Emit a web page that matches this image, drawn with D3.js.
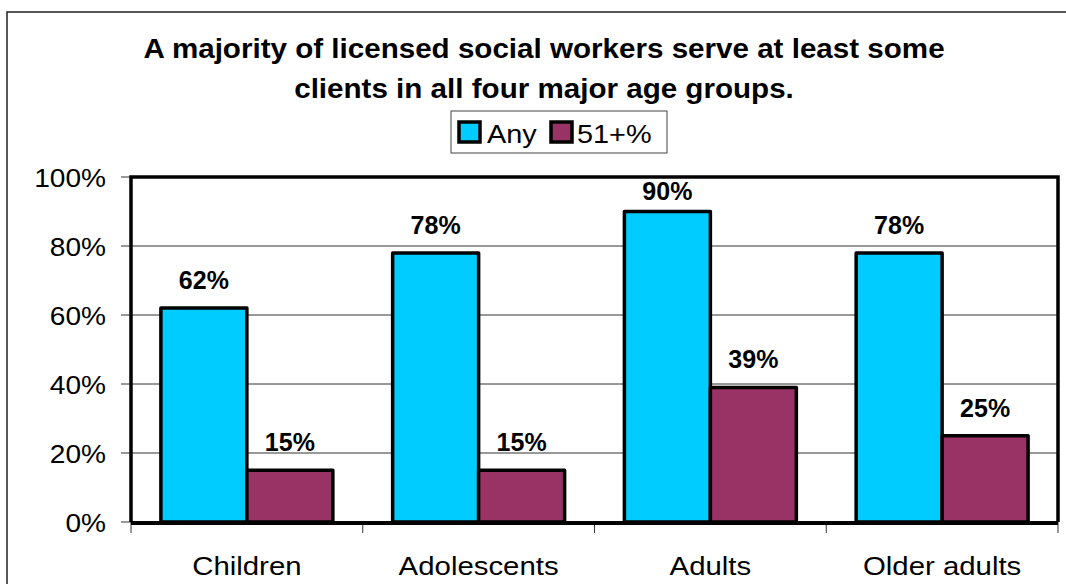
<!DOCTYPE html>
<html><head><meta charset="utf-8">
<script src="https://cdn.jsdelivr.net/npm/d3@7"></script>
<style>body{margin:0;background:#fff}svg{display:block;font-family:Arial,"Liberation Sans",sans-serif}</style>
</head><body>
<svg id="c" width="1066" height="584"></svg>
<script>
const categories = ["Children","Adolescents","Adults","Older adults"];
const seriesNames = ["Any","51+%"];
const anyValues = [0.62,0.78,0.90,0.78];
const over51Values = [0.15,0.15,0.39,0.25];
const yTicks = [0,0.2,0.4,0.6,0.8,1.0];
const titleLines = ["A majority of licensed social workers serve at least some","clients in all four major age groups."];
const colors = ["#00CCFF","#993366"];

const svg = d3.select("#c");
const L=131, R=1058, T=177, B=522;
const sx = 1.11;

// outer frame
svg.append("rect").attr("x",7).attr("y",12).attr("width",1100).attr("height",700)
  .attr("fill","none").attr("stroke","#222").attr("stroke-width",1.5);

// title
titleLines.forEach((t,i)=>{
  svg.append("text").attr("transform",`translate(544,${58+40*i}) scale(1.096,1)`)
    .attr("text-anchor","middle").attr("font-weight","bold").attr("font-size",27).text(t);
});

const y = d3.scaleLinear().domain([0,1]).range([B,T]);
const x0 = d3.scaleBand().domain(categories).range([L,R]).paddingInner(0.258).paddingOuter(0.129);
const x1 = d3.scaleBand().domain(seriesNames).range([0,x0.bandwidth()]);

// gridlines
svg.append("g").selectAll("line").data(yTicks.filter(v=>v>0&&v<1)).join("line")
  .attr("x1",L).attr("x2",R).attr("y1",d=>y(d)).attr("y2",d=>y(d)).attr("stroke","#333").attr("stroke-width",1);

// y axis ticks
svg.append("g").selectAll("line").data(yTicks).join("line")
  .attr("x1",L-10).attr("x2",L).attr("y1",d=>y(d)).attr("y2",d=>y(d)).attr("stroke","#333").attr("stroke-width",1);
svg.append("g").selectAll("text").data(yTicks).join("text")
  .attr("transform",d=>`translate(106,${y(d)+9.5}) scale(1.08,1)`)
  .attr("text-anchor","end").attr("font-size",26).text(d=>d3.format(".0%")(d));

// category ticks
const bounds = categories.map(c=>x0(c)-x0.step()*x0.paddingInner()/2).concat([R]);
bounds[0]=L;
svg.append("g").selectAll("line").data(bounds).join("line")
  .attr("x1",d=>d).attr("x2",d=>d).attr("y1",B).attr("y2",B+11).attr("stroke","#333").attr("stroke-width",1);
svg.append("g").selectAll("text").data(categories).join("text")
  .attr("transform",d=>`translate(${x0(d)+x0.bandwidth()/2},575) scale(1.13,1)`)
  .attr("text-anchor","middle").attr("font-size",26).text(d=>d);

// bars
const rows = categories.map((c,i)=>({c, vals:[anyValues[i],over51Values[i]]}));
const g = svg.append("g").selectAll("g").data(rows).join("g").attr("transform",d=>`translate(${x0(d.c)},0)`);
g.selectAll("rect").data(d=>d.vals.map((v,j)=>({v,s:seriesNames[j],j}))).join("rect")
  .attr("x",d=>x1(d.s)).attr("width",x1.bandwidth()).attr("y",d=>y(d.v)).attr("height",d=>B-y(d.v))
  .attr("fill",d=>colors[d.j]).attr("stroke","#000").attr("stroke-width",3.5).attr("stroke-linejoin","round");
g.selectAll("text").data(d=>d.vals.map((v,j)=>({v,s:seriesNames[j],j}))).join("text")
  .attr("x",d=>x1(d.s)+x1.bandwidth()/2).attr("y",d=>Math.max(y(d.v)-19,T+23))
  .attr("text-anchor","middle").attr("font-weight","bold").attr("font-size",25).text(d=>d3.format(".0%")(d.v));

// plot frame
svg.append("path").attr("d",`M${L},${B}V${T}H${R}V${B}`).attr("fill","none").attr("stroke","#000").attr("stroke-width",3.5);
svg.append("line").attr("x1",L).attr("x2",R).attr("y1",B+1).attr("y2",B+1).attr("stroke","#000").attr("stroke-width",4);

// legend
const lg = svg.append("g");
lg.append("rect").attr("x",451).attr("y",111).attr("width",216).attr("height",42).attr("fill","#fff").attr("stroke","#444").attr("stroke-width",1);
const lx = [459,551], tx=[487,577];
seriesNames.forEach((s,j)=>{
  lg.append("rect").attr("x",lx[j]).attr("y",122).attr("width",21).attr("height",20).attr("fill",colors[j]).attr("stroke","#000").attr("stroke-width",3.5);
  lg.append("text").attr("transform",`translate(${tx[j]},143) scale(${sx},1)`).attr("font-size",26).text(s);
});
</script>
</body></html>
